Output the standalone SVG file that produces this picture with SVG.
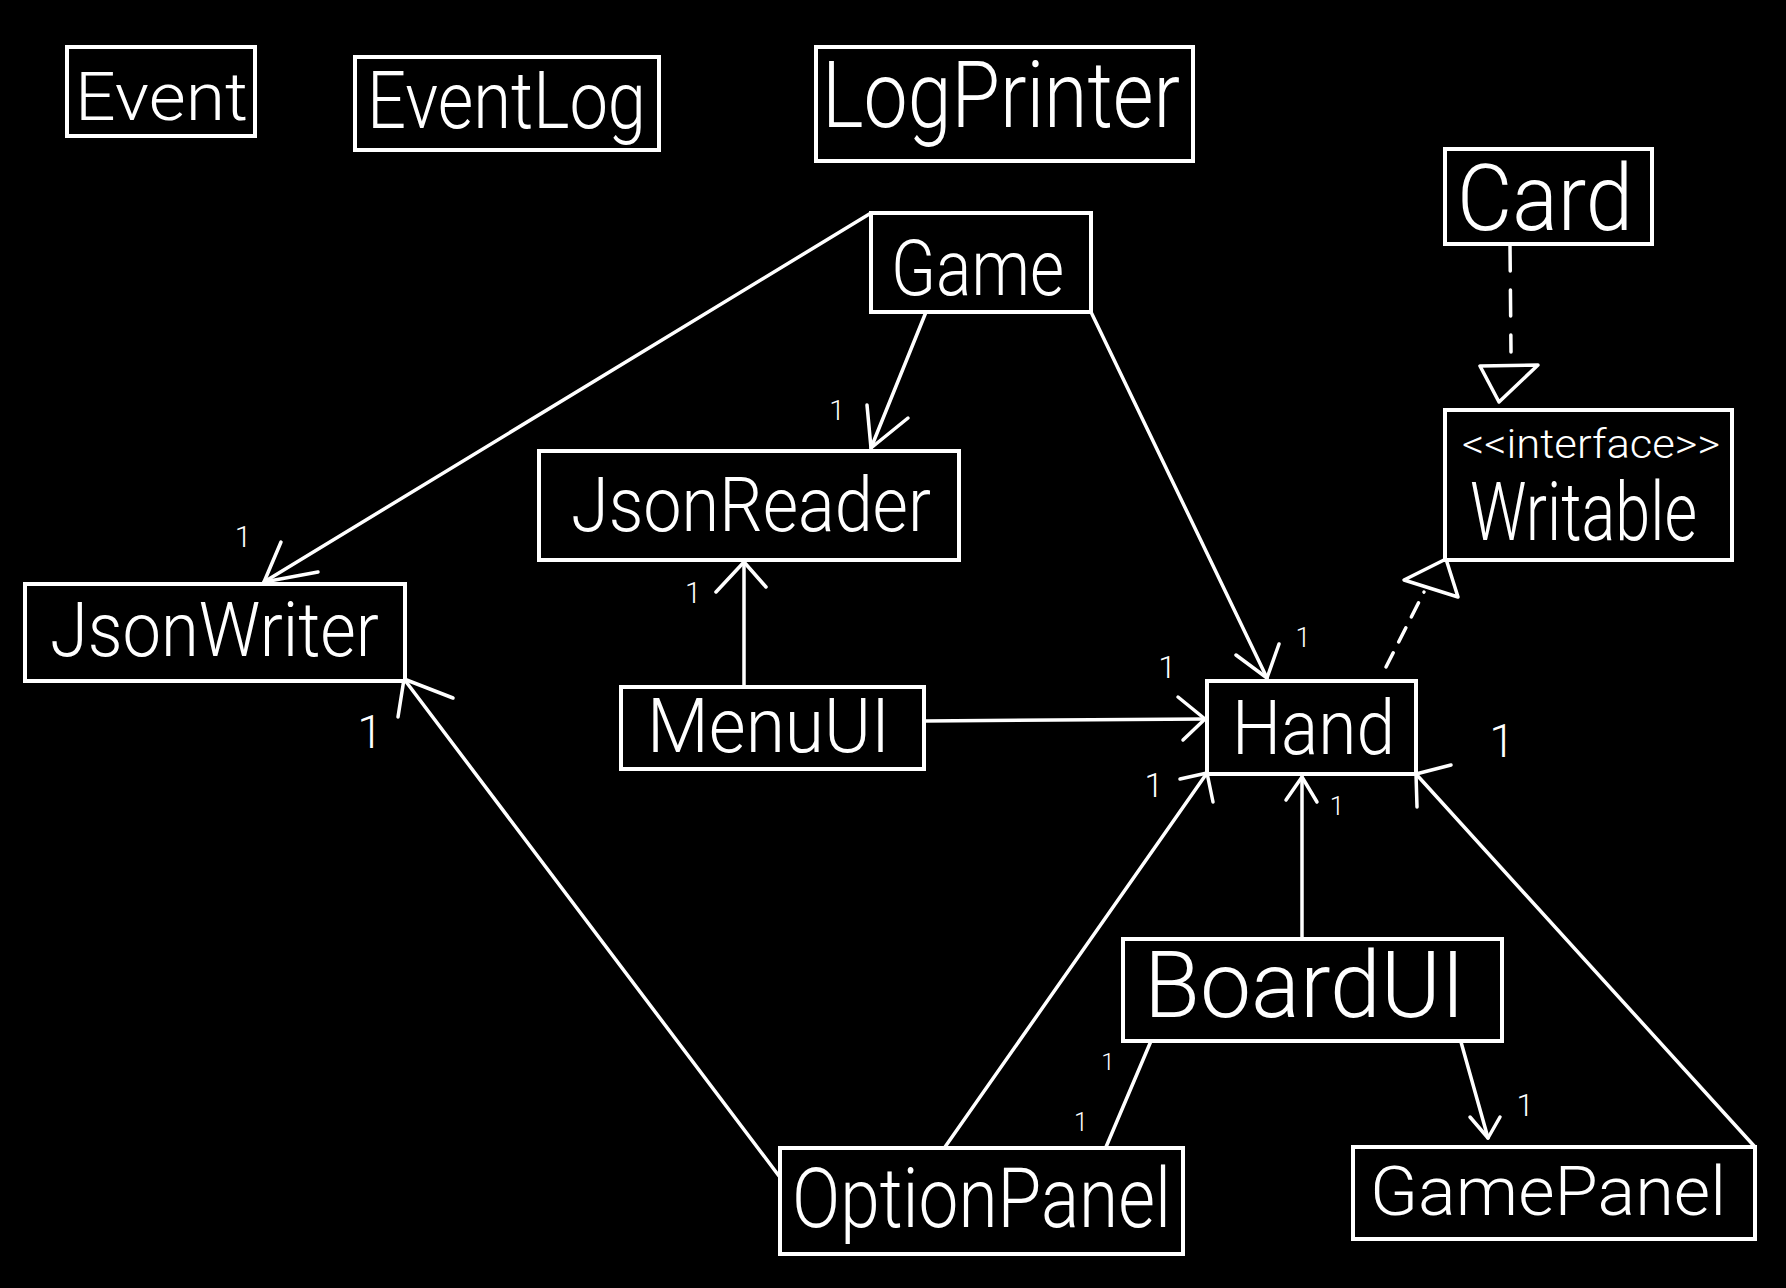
<svg xmlns="http://www.w3.org/2000/svg" width="1786" height="1288" viewBox="0 0 1786 1288">
<style>
.box{fill:#000;stroke:#fff;stroke-width:4}
.lbl{fill:#fff;font-family:Roboto,"Liberation Sans",Arial,sans-serif;font-weight:300}
.ln{fill:none;stroke:#fff;stroke-width:3.5;stroke-linecap:round;stroke-linejoin:round}
.dash1{stroke-dasharray:16 12}
.dash2{stroke-dasharray:26 19}
.m{fill:#fff;font-family:Roboto,"Liberation Sans",Arial,sans-serif;font-weight:300;text-anchor:middle}
</style>
<rect x="0" y="0" width="1786" height="1288" fill="#000"/>
<g id="connectors">
  <!-- Game -> JsonWriter -->
  <line class="ln" x1="871" y1="213" x2="264" y2="582"/>
  <polyline class="ln" points="281,542 264,582 318,572"/>
  <text class="m" x="243" y="547" font-size="30">1</text>
  <!-- Game -> JsonReader -->
  <line class="ln" x1="926" y1="312" x2="871" y2="448"/>
  <polyline class="ln" points="867,405 871,448 908,418"/>
  <text class="m" x="837" y="420" font-size="28">1</text>
  <!-- Game -> Hand -->
  <line class="ln" x1="1091" y1="312" x2="1267" y2="678"/>
  <polyline class="ln" points="1236,655 1267,678 1279,644"/>
  <text class="m" x="1303" y="647" font-size="27">1</text>
  <!-- MenuUI -> JsonReader -->
  <line class="ln" x1="744" y1="687" x2="744" y2="562"/>
  <polyline class="ln" points="716,592 744,562 766,587"/>
  <text class="m" x="693" y="603" font-size="29">1</text>
  <!-- MenuUI -> Hand -->
  <line class="ln" x1="924" y1="721" x2="1205" y2="719"/>
  <polyline class="ln" points="1178,697 1205,719 1183,740"/>
  <text class="m" x="1167" y="678" font-size="32">1</text>
  <!-- Hand realizes Writable -->
  <line class="ln dash1" x1="1386" y1="667" x2="1424" y2="592"/>
  <polygon class="ln" points="1446,559 1404,580 1458,597"/>
  <!-- Card realizes Writable -->
  <line class="ln dash2" x1="1510" y1="245" x2="1511" y2="352"/>
  <polygon class="ln" points="1480,366 1538,365 1499,402"/>
  <!-- OptionPanel -> JsonWriter -->
  <line class="ln" x1="779" y1="1176" x2="404" y2="679"/>
  <polyline class="ln" points="453,698 404,679 398,717"/>
  <text class="m" x="370" y="748" font-size="46">1</text>
  <!-- OptionPanel -> Hand -->
  <line class="ln" x1="945" y1="1147" x2="1207" y2="773"/>
  <polyline class="ln" points="1180,779 1207,773 1213,802"/>
  <text class="m" x="1154" y="797" font-size="34">1</text>
  <!-- BoardUI -> Hand -->
  <line class="ln" x1="1302" y1="939" x2="1302" y2="777"/>
  <polyline class="ln" points="1286,800 1302,777 1317,802"/>
  <text class="m" x="1337" y="815" font-size="26">1</text>
  <!-- GamePanel -> Hand -->
  <line class="ln" x1="1755" y1="1147" x2="1416" y2="774"/>
  <polyline class="ln" points="1451,765 1416,774 1417,807"/>
  <text class="m" x="1502" y="757" font-size="46">1</text>
  <!-- BoardUI - OptionPanel -->
  <line class="ln" x1="1151" y1="1041" x2="1106" y2="1147"/>
  <text class="m" x="1108" y="1070" font-size="24">1</text>
  <text class="m" x="1081" y="1131" font-size="25">1</text>
  <!-- BoardUI -> GamePanel -->
  <line class="ln" x1="1461" y1="1042" x2="1488" y2="1138"/>
  <polyline class="ln" points="1470,1117 1488,1138 1500,1117"/>
  <text class="m" x="1525" y="1116" font-size="31">1</text>
</g>
<g id="Event">
  <rect class="box" x="67" y="47" width="188" height="89"/>
  <text class="lbl" x="75" y="120" font-size="66" textLength="173" lengthAdjust="spacingAndGlyphs">Event</text>
</g>
<g id="EventLog">
  <rect class="box" x="355" y="57" width="304" height="93"/>
  <text class="lbl" x="367" y="128" font-size="80" textLength="279" lengthAdjust="spacingAndGlyphs">EventLog</text>
</g>
<g id="LogPrinter">
  <rect class="box" x="816" y="47" width="377" height="114"/>
  <text class="lbl" x="822" y="127" font-size="92" textLength="358" lengthAdjust="spacingAndGlyphs">LogPrinter</text>
</g>
<g id="Card">
  <rect class="box" x="1445" y="149" width="207" height="95"/>
  <text class="lbl" x="1457" y="230" font-size="92" textLength="176" lengthAdjust="spacingAndGlyphs">Card</text>
</g>
<g id="Game">
  <rect class="box" x="871" y="213" width="220" height="99"/>
  <text class="lbl" x="891" y="295" font-size="78" textLength="173" lengthAdjust="spacingAndGlyphs">Game</text>
</g>
<g id="JsonReader">
  <rect class="box" x="539" y="451" width="420" height="109"/>
  <text class="lbl" x="571" y="531" font-size="76" textLength="360" lengthAdjust="spacingAndGlyphs">JsonReader</text>
</g>
<g id="Writable">
  <rect class="box" x="1445" y="410" width="287" height="150"/>
  <text class="lbl" x="1462" y="458" font-size="40" textLength="258" lengthAdjust="spacingAndGlyphs">&lt;&lt;interface&gt;&gt;</text>
  <text class="lbl" x="1470" y="540" font-size="82" textLength="227" lengthAdjust="spacingAndGlyphs">Writable</text>
</g>
<g id="JsonWriter">
  <rect class="box" x="25" y="584" width="380" height="97"/>
  <text class="lbl" x="50" y="656" font-size="76" textLength="329" lengthAdjust="spacingAndGlyphs">JsonWriter</text>
</g>
<g id="MenuUI">
  <rect class="box" x="621" y="687" width="303" height="82"/>
  <text class="lbl" x="647" y="752" font-size="76" textLength="243" lengthAdjust="spacingAndGlyphs">MenuUI</text>
</g>
<g id="Hand">
  <rect class="box" x="1207" y="681" width="209" height="93"/>
  <text class="lbl" x="1232" y="754" font-size="76" textLength="163" lengthAdjust="spacingAndGlyphs">Hand</text>
</g>
<g id="BoardUI">
  <rect class="box" x="1123" y="939" width="379" height="102"/>
  <text class="lbl" x="1144" y="1017" font-size="92" textLength="321" lengthAdjust="spacingAndGlyphs">BoardUI</text>
</g>
<g id="OptionPanel">
  <rect class="box" x="780" y="1148" width="403" height="106"/>
  <text class="lbl" x="792" y="1227" font-size="84" textLength="379" lengthAdjust="spacingAndGlyphs">OptionPanel</text>
</g>
<g id="GamePanel">
  <rect class="box" x="1353" y="1147" width="402" height="92"/>
  <text class="lbl" x="1370" y="1215" font-size="68" textLength="356" lengthAdjust="spacingAndGlyphs">GamePanel</text>
</g>
</svg>
